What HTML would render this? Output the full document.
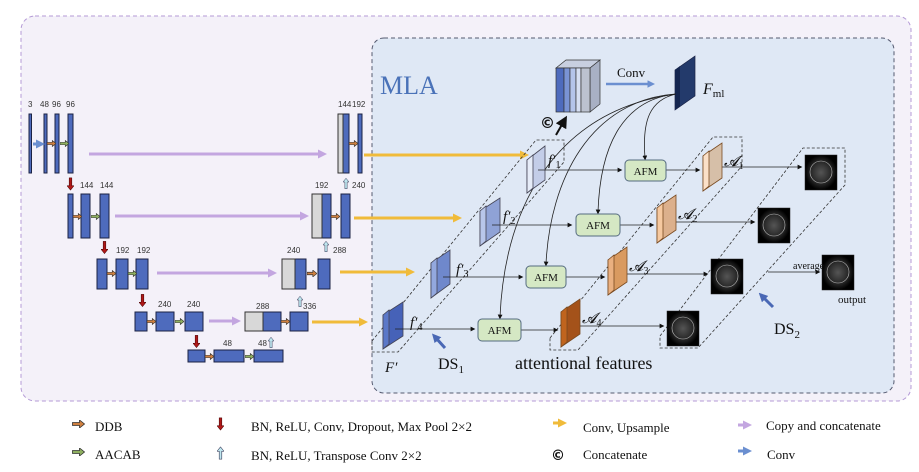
<!DOCTYPE html>
<html><head><meta charset="utf-8"><style>
html,body{margin:0;padding:0;background:#fff}
svg{display:block}
.s{font-family:"Liberation Sans",sans-serif;font-size:8px;fill:#333}
.t{font-family:"Liberation Serif",serif;fill:#111}
</style></head><body>
<svg width="919" height="472" viewBox="0 0 919 472" xmlns="http://www.w3.org/2000/svg">
<defs>
<marker id="mb" markerWidth="6" markerHeight="6" refX="3" refY="3" orient="auto"><path d="M0,0 L6,3 L0,6 z" fill="#111"/></marker>
<marker id="mp" markerWidth="3" markerHeight="3" refX="1" refY="1.5" orient="auto" markerUnits="strokeWidth"><path d="M0,0 L3,1.5 L0,3 z" fill="#c3a6e0"/></marker>
<marker id="my" markerWidth="3" markerHeight="3" refX="1" refY="1.5" orient="auto" markerUnits="strokeWidth"><path d="M0,0 L3,1.5 L0,3 z" fill="#f0bb3a"/></marker>
<marker id="mbl" markerWidth="3" markerHeight="3" refX="1" refY="1.5" orient="auto" markerUnits="strokeWidth"><path d="M0,0 L3,1.5 L0,3 z" fill="#6b8fd0"/></marker>
<marker id="mds" markerWidth="3" markerHeight="3" refX="1" refY="1.5" orient="auto" markerUnits="strokeWidth"><path d="M0,0 L3,1.5 L0,3 z" fill="#4a68b5"/></marker>
<symbol id="ob" viewBox="0 0 12 8"><path d="M0,2.5 H7 V0 L12,4 L7,8 V5.5 H0 z" fill="#d08040" stroke="#333" stroke-width=".8"/></symbol>
<symbol id="gb" viewBox="0 0 12 8"><path d="M0,2.5 H7 V0 L12,4 L7,8 V5.5 H0 z" fill="#8fb060" stroke="#333" stroke-width=".8"/></symbol>
<symbol id="rd" viewBox="0 0 8 14"><path d="M2.5,0 H5.5 V9 H8 L4,14 L0,9 H2.5 z" fill="#b01818" stroke="#400" stroke-width=".6"/></symbol>
<symbol id="cu" viewBox="0 0 8 14"><path d="M2.5,14 H5.5 V5 H8 L4,0 L0,5 H2.5 z" fill="#bfe6ee" stroke="#224" stroke-width=".6"/></symbol>
<radialGradient id="img" cx=".5" cy=".5" r=".5"><stop offset="0" stop-color="#555"/><stop offset=".7" stop-color="#222"/><stop offset="1" stop-color="#000"/></radialGradient>
</defs>

<rect x="21" y="16" width="890" height="385" rx="14" fill="#f4f1f9" stroke="#b49ad6" stroke-dasharray="4,3"/>
<rect x="372" y="38" width="522" height="355" rx="12" fill="#dfe8f5" stroke="#555a70" stroke-dasharray="4,3"/>

<g fill="#4e6bbd" stroke="#1b2244" stroke-width="1">
<rect x="29" y="114" width="2.5" height="59"/>
<rect x="44" y="114" width="3" height="59"/>
<rect x="55" y="114" width="4" height="59"/>
<rect x="68" y="114" width="5" height="59"/>
<rect x="68" y="194" width="5" height="44"/>
<rect x="81" y="194" width="9" height="44"/>
<rect x="100" y="194" width="9" height="44"/>
<rect x="97" y="259" width="10" height="30"/>
<rect x="116" y="259" width="12" height="30"/>
<rect x="136" y="259" width="12" height="30"/>
<rect x="135" y="312" width="12" height="19"/>
<rect x="156" y="312" width="18" height="19"/>
<rect x="185" y="312" width="18" height="19"/>
<rect x="188" y="350" width="17" height="12"/>
<rect x="214" y="350" width="30" height="12"/>
<rect x="254" y="350" width="29" height="12"/>
<rect x="263" y="312" width="18" height="19"/>
<rect x="290" y="312" width="18" height="19"/>
<rect x="295" y="259" width="11" height="30"/>
<rect x="318" y="259" width="12" height="30"/>
<rect x="322" y="194" width="9" height="44"/>
<rect x="341" y="194" width="9" height="44"/>
<rect x="343" y="114" width="6" height="59"/>
<rect x="358" y="114" width="4" height="59"/>
</g>
<g fill="#d8d8d8" stroke="#333" stroke-width="1">
<rect x="245" y="312" width="18" height="19"/>
<rect x="282" y="259" width="13" height="30"/>
<rect x="312" y="194" width="10" height="44"/>
<rect x="338" y="114" width="5" height="59"/>
</g>
<line x1="33" y1="144" x2="39" y2="144" stroke="#6b8fd0" stroke-width="3" marker-end="url(#mbl)"/>
<use href="#ob" x="47" y="140" width="9" height="7"/><use href="#gb" x="60" y="140" width="9" height="7"/>
<use href="#ob" x="73" y="213" width="9" height="7"/><use href="#gb" x="91" y="213" width="9" height="7"/>
<use href="#ob" x="107" y="270" width="9" height="7"/><use href="#gb" x="128" y="270" width="9" height="7"/>
<use href="#ob" x="147" y="318" width="9" height="7"/><use href="#gb" x="175" y="318" width="9" height="7"/>
<use href="#ob" x="205" y="353" width="9" height="7"/><use href="#gb" x="245" y="353" width="9" height="7"/>
<use href="#ob" x="281" y="318" width="9" height="7"/>
<use href="#ob" x="307" y="270" width="10" height="7"/>
<use href="#ob" x="331" y="213" width="9" height="7"/>
<use href="#ob" x="349" y="140" width="9" height="7"/>
<use href="#rd" x="67" y="177" width="7" height="14"/>
<use href="#rd" x="101" y="240" width="7" height="15"/>
<use href="#rd" x="139" y="293" width="7" height="15"/>
<use href="#rd" x="193" y="334" width="7" height="15"/>
<use href="#cu" x="268" y="335" width="6" height="15"/>
<use href="#cu" x="297" y="294" width="6" height="15"/>
<use href="#cu" x="323" y="239" width="6" height="15"/>
<use href="#cu" x="343" y="176" width="6" height="15"/>
<g class="s">
<text x="28" y="107">3</text><text x="40" y="107">48</text><text x="52" y="107">96</text><text x="66" y="107">96</text>
<text x="80" y="188">144</text><text x="100" y="188">144</text>
<text x="116" y="253">192</text><text x="137" y="253">192</text>
<text x="158" y="307">240</text><text x="187" y="307">240</text>
<text x="223" y="346">48</text><text x="258" y="346">48</text>
<text x="256" y="309">288</text><text x="303" y="309">336</text>
<text x="287" y="253">240</text><text x="333" y="253">288</text>
<text x="315" y="188">192</text><text x="352" y="188">240</text>
<text x="338" y="107">144</text><text x="352" y="107">192</text>
</g>
<g stroke="#c3a6e0" stroke-width="3" marker-end="url(#mp)">
<line x1="89" y1="154" x2="321" y2="154"/>
<line x1="115" y1="216" x2="303" y2="216"/>
<line x1="157" y1="273" x2="271" y2="273"/>
<line x1="209" y1="321" x2="235" y2="321"/>
</g>
<g stroke="#f0bb3a" stroke-width="3" marker-end="url(#my)">
<line x1="364" y1="155" x2="523" y2="155"/>
<line x1="354" y1="218" x2="456" y2="218"/>
<line x1="340" y1="272" x2="409" y2="272"/>
<line x1="312" y1="322" x2="362" y2="322"/>
</g>

<text x="380" y="94" font-family="Liberation Serif,serif" font-size="26" fill="#4a72b8">MLA</text>
<g fill="none" stroke="#333" stroke-width=".8" stroke-dasharray="3,2">
<polygon points="372,341 536,140 564,140 564,162 398,352 372,352"/>
<polygon points="550,338 713,137 742,137 742,166 578,350 550,350"/>
<polygon points="660,336 803,148 845,148 845,185 698,348 660,348"/>
</g>
<g stroke="#333" stroke-width=".7">
<polygon points="556,68 566,60 600,60 590,68" fill="#c8cfe0"/>
<polygon points="590,68 600,60 600,104 590,112" fill="#a8b0c4"/>
<rect x="556" y="68" width="8" height="44" fill="#4e6bbd"/>
<rect x="564" y="68" width="6" height="44" fill="#7a93d4"/>
<rect x="570" y="68" width="6" height="44" fill="#b4c4ea"/>
<rect x="576" y="68" width="5" height="44" fill="#d6dff3"/>
<rect x="581" y="68" width="9" height="44" fill="#bcc2d0"/>
</g>
<line x1="606" y1="84" x2="650" y2="84" stroke="#6b8fd0" stroke-width="2.5" marker-end="url(#mbl)"/>
<text x="617" y="77" class="t" font-size="13">Conv</text>
<polygon points="675,70 695,56 695,96 675,110" fill="#233a6b" stroke="#1a2244" stroke-width=".7"/>
<polygon points="675,70 680,66 680,106 675,110" fill="#152650"/>
<text x="703" y="94" class="t" font-size="16" font-style="italic">F<tspan font-size="11" font-style="normal" dy="3">ml</tspan></text>
<text x="540" y="128" font-family="DejaVu Sans,sans-serif" font-size="15" font-weight="bold" fill="#111">©</text>
<line x1="556" y1="135" x2="564" y2="121" stroke="#111" stroke-width="2" marker-end="url(#mb)"/>

<g fill="none" stroke="#222" stroke-width=".8" marker-end="url(#mb)">
<path d="M676,94 C650,100 642,120 645,158"/>
<path d="M676,94 C620,100 600,150 598,212"/>
<path d="M676,94 C590,100 550,180 546,264"/>
<path d="M676,94 C560,110 505,200 500,317"/>
</g>

<g stroke="#445" stroke-width=".8">
<polygon points="527,160 545,146 545,180 527,193" fill="#c3cde8"/><polygon points="527,160 533,155 533,188 527,193" fill="#e6ecf8"/>
<polygon points="480,211 500,198 500,232 480,246" fill="#8fa2d6"/><polygon points="480,211 486,206 486,241 480,246" fill="#b8c6ea"/>
<polygon points="431,263 450,250 450,284 431,298" fill="#6f88cc"/><polygon points="431,263 437,258 437,293 431,298" fill="#93a8de"/>
<polygon points="383,315 403,302 403,336 383,349" fill="#4662b8"/><polygon points="383,315 389,310 389,344 383,349" fill="#5b78c8"/>
</g>
<g class="t" font-size="15" font-style="italic">
<text x="548" y="165">f′<tspan font-size="10" dy="3" font-style="normal">1</tspan></text>
<text x="503" y="221">f′<tspan font-size="10" dy="3" font-style="normal">2</tspan></text>
<text x="456" y="274">f′<tspan font-size="10" dy="3" font-style="normal">3</tspan></text>
<text x="410" y="327">f′<tspan font-size="10" dy="3" font-style="normal">4</tspan></text>
</g>
<g stroke="#222" stroke-width=".8" marker-end="url(#mb)">
<line x1="538" y1="170" x2="620" y2="170"/>
<line x1="492" y1="225" x2="570" y2="225"/>
<line x1="443" y1="277" x2="521" y2="277"/>
<line x1="395" y1="329" x2="473" y2="329"/>
<line x1="666" y1="170" x2="698" y2="170"/>
<line x1="620" y1="225" x2="652" y2="225"/>
<line x1="566" y1="277" x2="603" y2="277"/>
<line x1="521" y1="330" x2="556" y2="330"/>
<line x1="715" y1="167" x2="800" y2="167"/>
<line x1="670" y1="222" x2="753" y2="222"/>
<line x1="622" y1="274" x2="706" y2="274"/>
<line x1="574" y1="326" x2="662" y2="326"/>
<line x1="768" y1="272" x2="818" y2="272"/>
</g>
<g fill="#d5e8c4" stroke="#556b80" stroke-width="1">
<rect x="625" y="160" width="41" height="21" rx="4"/>
<rect x="576" y="214" width="44" height="22" rx="4"/>
<rect x="526" y="266" width="40" height="22" rx="4"/>
<rect x="478" y="319" width="43" height="22" rx="4"/>
</g>
<g class="t" font-size="11" text-anchor="middle">
<text x="645.5" y="175">AFM</text><text x="598" y="229">AFM</text><text x="546" y="281">AFM</text><text x="499.5" y="334">AFM</text>
</g>
<g stroke="#7a4a20" stroke-width=".8">
<polygon points="703,156 722,143 722,178 703,191" fill="#d6bfa8"/><polygon points="703,156 709,151 709,186 703,191" fill="#fbe0c8"/>
<polygon points="657,208 676,195 676,230 657,243" fill="#dcb08c"/><polygon points="657,208 663,203 663,238 657,243" fill="#f6c9a0"/>
<polygon points="608,260 627,247 627,282 608,295" fill="#d99a60"/><polygon points="608,260 614,255 614,290 608,295" fill="#eab080"/>
<polygon points="561,312 580,299 580,334 561,347" fill="#a4521a"/><polygon points="561,312 567,307 567,342 561,347" fill="#c0641e"/>
</g>
<g class="t" font-size="15" font-style="italic">
<text x="724" y="166">𝓐<tspan font-size="10" dy="3" font-style="normal">1</tspan></text>
<text x="678" y="219">𝓐<tspan font-size="10" dy="3" font-style="normal">2</tspan></text>
<text x="629" y="271">𝓐<tspan font-size="10" dy="3" font-style="normal">3</tspan></text>
<text x="582" y="323">𝓐<tspan font-size="10" dy="3" font-style="normal">4</tspan></text>
</g>
<g fill="url(#img)" stroke="#222" stroke-width=".5">
<rect x="805" y="155" width="32" height="35"/>
<rect x="758" y="208" width="32" height="35"/>
<rect x="711" y="259" width="32" height="35"/>
<rect x="667" y="311" width="32" height="35"/>
<rect x="822" y="255" width="32" height="35"/>
</g>
<g fill="none" stroke="#bbb" stroke-width=".6">
<circle cx="821" cy="172" r="11"/><circle cx="774" cy="225" r="11"/><circle cx="727" cy="276" r="11"/><circle cx="683" cy="328" r="11"/><circle cx="838" cy="272" r="11"/>
</g>
<text x="793" y="269" class="t" font-size="10">average</text>
<text x="838" y="303" class="t" font-size="11">output</text>
<line x1="445" y1="348" x2="436" y2="338" stroke="#4a68b5" stroke-width="3" marker-end="url(#mds)"/>
<line x1="773" y1="307" x2="763" y2="297" stroke="#4a68b5" stroke-width="3" marker-end="url(#mds)"/>
<text x="438" y="369" class="t" font-size="16">DS<tspan font-size="11" dy="4">1</tspan></text>
<text x="774" y="334" class="t" font-size="16">DS<tspan font-size="11" dy="4">2</tspan></text>
<text x="385" y="372" class="t" font-size="15" font-style="italic">F′</text>
<text x="515" y="369" class="t" font-size="18">attentional features</text>

<use href="#ob" x="72" y="420" width="13" height="8"/>
<use href="#gb" x="72" y="448" width="13" height="8"/>
<text x="95" y="431" class="t" font-size="13">DDB</text>
<text x="95" y="459" class="t" font-size="13">AACAB</text>
<use href="#rd" x="217" y="417" width="7" height="14"/>
<use href="#cu" x="217" y="446" width="7" height="14"/>
<text x="251" y="431" class="t" font-size="13">BN, ReLU, Conv, Dropout, Max Pool 2×2</text>
<text x="251" y="460" class="t" font-size="13">BN, ReLU, Transpose Conv 2×2</text>
<line x1="553" y1="423" x2="561" y2="423" stroke="#f0bb3a" stroke-width="3" marker-end="url(#my)"/>
<text x="583" y="432" class="t" font-size="13">Conv, Upsample</text>
<text x="551" y="460" font-family="DejaVu Sans,sans-serif" font-size="14" font-weight="bold" fill="#111">©</text>
<text x="583" y="459" class="t" font-size="13">Concatenate</text>
<line x1="738" y1="425" x2="746" y2="425" stroke="#c3a6e0" stroke-width="3" marker-end="url(#mp)"/>
<text x="766" y="430" class="t" font-size="13">Copy and concatenate</text>
<line x1="738" y1="451" x2="746" y2="451" stroke="#6b8fd0" stroke-width="3" marker-end="url(#mbl)"/>
<text x="767" y="459" class="t" font-size="13">Conv</text>
</svg>
</body></html>
